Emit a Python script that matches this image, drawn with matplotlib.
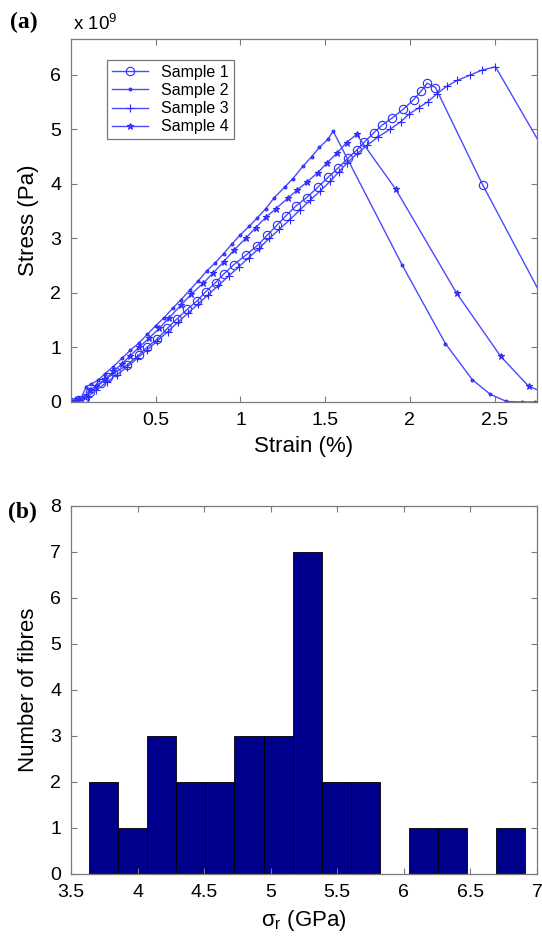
import numpy as np
import matplotlib
matplotlib.use('Agg')
import matplotlib.pyplot as plt

plt.rcParams['font.family'] = ['Liberation Sans', 'DejaVu Sans']
plt.rcParams['mathtext.fontset'] = 'custom'
plt.rcParams['mathtext.rm'] = 'Liberation Sans'
plt.rcParams['mathtext.it'] = 'Liberation Sans'

# ---------------- (a) stress-strain curves (strain in %, stress in 1e9 Pa) ----------------
s1_strain = [0.0, 0.04, 0.08, 0.115, 0.175, 0.22, 0.263, 0.328, 0.40, 0.45, 0.51, 0.568, 0.627,
             0.686, 0.745, 0.794, 0.853, 0.902, 0.961, 1.03, 1.099, 1.158, 1.217, 1.266, 1.325,
             1.39, 1.457, 1.516, 1.575, 1.634, 1.685, 1.732, 1.787, 1.836, 1.895, 1.96, 2.023,
             2.068, 2.102, 2.151, 2.43, 2.78]
s1_stress = [0.0, 0.04, 0.08, 0.18, 0.34, 0.45, 0.55, 0.67, 0.86, 1.01, 1.16, 1.35, 1.53,
             1.70, 1.86, 2.02, 2.19, 2.35, 2.52, 2.69, 2.87, 3.06, 3.25, 3.41, 3.59,
             3.75, 3.94, 4.12, 4.29, 4.47, 4.62, 4.77, 4.94, 5.08, 5.21, 5.37, 5.55,
             5.71, 5.85, 5.77, 3.98, 1.93]

s2_strain = [0.0, 0.03, 0.06, 0.09, 0.12, 0.16, 0.20, 0.25, 0.30, 0.35, 0.40, 0.45, 0.50, 0.55,
             0.60, 0.65, 0.70, 0.75, 0.80, 0.85, 0.90, 0.95, 1.00, 1.05, 1.10, 1.15, 1.20, 1.26,
             1.31, 1.37, 1.42, 1.465, 1.516, 1.547, 1.955, 2.21, 2.368, 2.475, 2.57, 2.663, 2.74]
s2_stress = [0.0, 0.05, 0.08, 0.28, 0.33, 0.40, 0.52, 0.65, 0.80, 0.95, 1.08, 1.24, 1.40, 1.55,
             1.72, 1.88, 2.05, 2.22, 2.40, 2.55, 2.72, 2.90, 3.07, 3.22, 3.38, 3.55, 3.75, 3.94,
             4.10, 4.33, 4.50, 4.67, 4.82, 4.97, 2.51, 1.07, 0.41, 0.14, 0.01, 0.0, 0.0]

s3_strain = [0.0, 0.05, 0.10, 0.15, 0.21, 0.27, 0.33, 0.39, 0.45, 0.51, 0.57, 0.63, 0.69, 0.75,
             0.81, 0.87, 0.93, 0.99, 1.05, 1.11, 1.17, 1.23, 1.29, 1.35, 1.41, 1.47, 1.53, 1.58,
             1.63, 1.689, 1.748, 1.811, 1.881, 1.945, 1.994, 2.053, 2.106, 2.161, 2.216, 2.279,
             2.357, 2.426, 2.505, 2.80]
s3_stress = [0.0, 0.03, 0.10, 0.22, 0.36, 0.50, 0.64, 0.80, 0.96, 1.12, 1.29, 1.46, 1.63, 1.80,
             1.97, 2.14, 2.31, 2.48, 2.65, 2.82, 3.00, 3.17, 3.34, 3.52, 3.70, 3.87, 4.05, 4.22,
             4.39, 4.56, 4.71, 4.86, 5.00, 5.14, 5.28, 5.40, 5.51, 5.66, 5.79, 5.90,
             6.00, 6.09, 6.15, 4.57]

s4_strain = [0.0, 0.04, 0.08, 0.11, 0.15, 0.20, 0.25, 0.30, 0.35, 0.40, 0.46, 0.52, 0.58, 0.65,
             0.71, 0.78, 0.84, 0.90, 0.96, 1.03, 1.09, 1.15, 1.21, 1.28, 1.335, 1.394, 1.457,
             1.512, 1.571, 1.626, 1.685, 1.915, 2.275, 2.535, 2.70, 2.85]
s4_stress = [0.02, 0.05, 0.10, 0.22, 0.30, 0.42, 0.56, 0.70, 0.85, 1.00, 1.17, 1.35, 1.55, 1.78,
             1.98, 2.18, 2.37, 2.57, 2.78, 3.00, 3.20, 3.39, 3.55, 3.74, 3.89, 4.04, 4.21,
             4.39, 4.57, 4.76, 4.91, 3.91, 2.0, 0.84, 0.29, 0.10]

sample_labels = ['Sample 1', 'Sample 2', 'Sample 3', 'Sample 4']

# ---------------- (b) histogram of fibre strength ----------------
bin_first = 3.638
bin_last = 6.908
fibre_counts = [2, 1, 3, 2, 2, 3, 3, 7, 2, 2, 0, 1, 1, 0, 1]

fig = plt.figure(figsize=(5.42, 9.39), dpi=100)

line_col = '#4a4aff'
grey = '#7a7a7a'

ax1 = fig.add_axes([71 / 542, 1 - 402 / 939, 466 / 542, 363 / 939])
series = [(s1_strain, s1_stress, 'o', 6), (s2_strain, s2_stress, '.', 4),
          (s3_strain, s3_stress, '+', 6), (s4_strain, s4_stress, '*', 5)]
for (x, y, mk, ms), lab in zip(series, sample_labels):
    ax1.plot(x, y, color=line_col, lw=1.0, marker=mk, ms=ms, mfc='none' if mk == 'o' else line_col,
             mec='#2a2aff', mew=0.8, label=lab)
ax1.set_xlim(0, 2.75)
ax1.set_ylim(0, 6.66)
ax1.set_xticks([0.5, 1, 1.5, 2, 2.5])
ax1.set_xticklabels(['0.5', '1', '1.5', '2', '2.5'])
ax1.set_yticks(range(0, 7))
ax1.set_xlabel('Strain (%)', fontsize=16, labelpad=5)
ax1.set_ylabel('Stress (Pa)', fontsize=16, labelpad=8)
ax1.text(0.005, 1.015, r'x 10$^9$', transform=ax1.transAxes, fontsize=13.5, va='bottom', ha='left')
leg = ax1.legend(loc='upper left', bbox_to_anchor=(0.077, 0.942), fontsize=11.5, fancybox=False,
                 borderaxespad=0, handlelength=2.3, labelspacing=0.2, borderpad=0.3,
                 handletextpad=0.8)
leg.get_frame().set_edgecolor('#555555')
leg.get_frame().set_linewidth(0.9)
fig.text(10 / 542, 1 - 28 / 939, '(a)', fontsize=17, fontweight='bold', family='Liberation Serif')

ax2 = fig.add_axes([71 / 542, 1 - 874 / 939, 466 / 542, 368 / 939])
edges = np.linspace(bin_first, bin_last, len(fibre_counts) + 1)
ax2.bar(edges[:-1], fibre_counts, width=np.diff(edges), align='edge', color='#00008c',
        edgecolor='black', linewidth=0.6)
ax2.set_xlim(3.5, 7)
ax2.set_ylim(0, 8)
ax2.set_xticks(np.arange(3.5, 7.01, 0.5))
ax2.set_xticklabels(['3.5', '4', '4.5', '5', '5.5', '6', '6.5', '7'])
ax2.set_yticks(range(0, 9))
ax2.set_xlabel(r'$\sigma_r$ (GPa)', fontsize=16, labelpad=5)
ax2.set_ylabel('Number of fibres', fontsize=16, labelpad=8)
fig.text(8 / 542, 1 - 518 / 939, '(b)', fontsize=17, fontweight='bold', family='Liberation Serif')

for ax in (ax1, ax2):
    for sp in ax.spines.values():
        sp.set_color(grey)
        sp.set_linewidth(0.9)
    ax.tick_params(direction='in', top=True, right=True, length=4, width=0.8, color=grey,
                   labelsize=14, pad=7)

fig.savefig('out.png', dpi=100)
